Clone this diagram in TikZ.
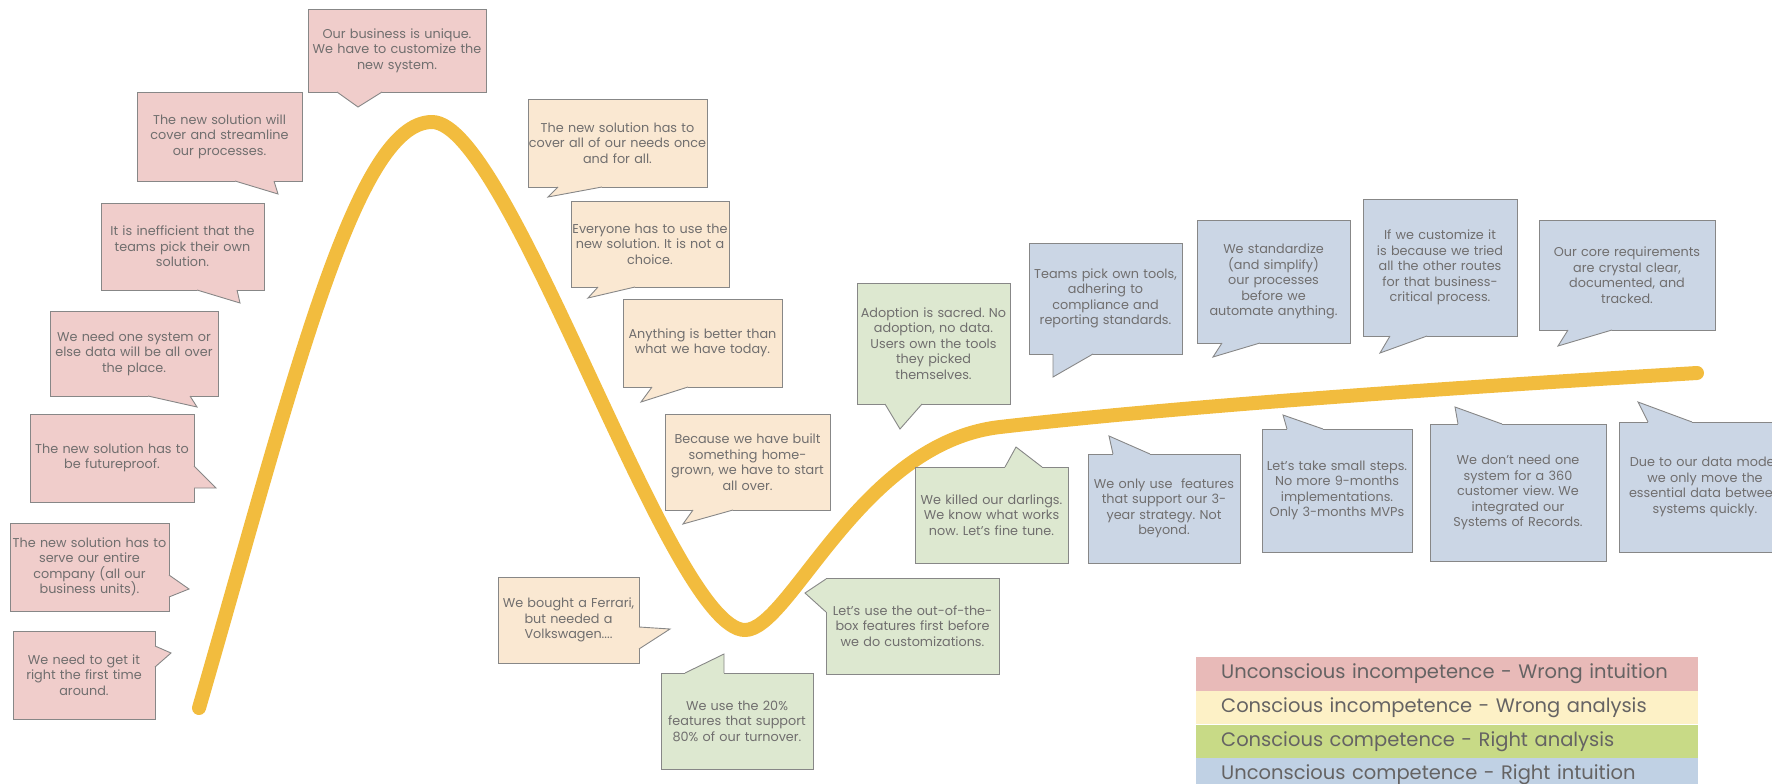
\documentclass[tikz,border=0pt]{standalone}
\usepackage{fontspec}
\setmainfont{Poppins}
\usepackage{tikz}
\usetikzlibrary{positioning}
\frenchspacing

\definecolor{pinkfill}{RGB}{240,205,203}
\definecolor{creamfill}{RGB}{250,232,210}
\definecolor{greenfill}{RGB}{221,232,208}
\definecolor{bluefill}{RGB}{203,214,229}
\definecolor{rimgray}{RGB}{135,135,135}
\definecolor{inkgray}{RGB}{112,110,110}
\definecolor{hypeline}{RGB}{242,188,62}
\definecolor{legpink}{RGB}{232,186,184}
\definecolor{legyellow}{RGB}{253,241,198}
\definecolor{leggreen}{RGB}{200,218,134}
\definecolor{legblue}{RGB}{192,209,228}

% speech bubble tail: fill, base point, tip, base point
\newcommand{\bubbletail}[4]{%
  \fill[#1] #2 -- #3 -- #4 -- cycle;
  \draw[#1, line width=1.6pt] #2 -- #4;
  \draw[rim] #2 -- #3 -- #4;
}

\begin{document}
\begin{tikzpicture}[x=1pt, y=-1pt,
    rim/.style={draw=rimgray, line width=0.9pt, line join=miter},
    bubble/.style n args={3}{rim, fill=#1, text width=#2, minimum height=#3,
      inner xsep=0pt, inner ysep=0pt, align=center, text=inkgray,
      font=\fontsize{12.8}{15.5}\selectfont},
    hype/.style={draw=hypeline, line width=14pt, line cap=round, line join=round},
    legendrow/.style={anchor=north west, minimum height=33.3pt, text width=452pt,
      inner xsep=25pt, inner ysep=0pt, align=left, text=inkgray!90!black,
      font=\fontsize{19.5}{21}\selectfont}]
  \useasboundingbox (0,0) rectangle (1772,784);
  \clip (0,0) rectangle (1772,784);

  \coordinate (start) at (199,708);
  \coordinate (peak) at (432,122);
  \coordinate (trough) at (745,630);
  \coordinate (knee) at (1000,427);
  \coordinate (finish) at (1697,373);
  \draw[hype] (start) .. controls (293,383) and (355,122) .. (peak)
    .. controls (510,122) and (670,630) .. (trough)
    .. controls (790,630) and (860,443) .. (knee)
    .. controls (1200,404) and (1497,385) .. (finish);

  % wrong intuition
  \node[bubble={pinkfill}{178pt}{83pt}] (unique) at (397,50.5)
    {Our business is unique.\\We have to customize the\\new system.};
  \bubbletail{pinkfill}{(337,92)}{(358,107)}{(382,92)}
  \node[bubble={pinkfill}{165pt}{89pt}] (streamline) at (219.5,136.5)
    {The new solution will\\cover and streamline\\our processes.};
  \bubbletail{pinkfill}{(235,181)}{(278,194)}{(274,181)}
  \node[bubble={pinkfill}{163pt}{87pt}] (inefficient) at (182.5,246.5)
    {It is inefficient that the\\teams pick their own\\solution.};
  \bubbletail{pinkfill}{(197,290)}{(240,303)}{(237,290)}
  \node[bubble={pinkfill}{168pt}{85pt}] (onesystem) at (134,353.5)
    {We need one system or\\else data will be all over\\the place.};
  \bubbletail{pinkfill}{(148,396)}{(197,407)}{(190,396)}
  \node[bubble={pinkfill}{164pt}{88pt}] (futureproof) at (112,458)
    {The new solution has to\\be futureproof.};
  \bubbletail{pinkfill}{(194,466)}{(216,488)}{(194,488)}
  \node[bubble={pinkfill}{159pt}{88pt}] (entire) at (89.5,567)
    {The new solution has to\\serve our entire\\company (all our\\business units).};
  \bubbletail{pinkfill}{(169,575)}{(189,589)}{(169,597)}
  \node[bubble={pinkfill}{142pt}{88pt}] (firsttime) at (84,675)
    {We need to get it\\right the first time\\around.};
  \bubbletail{pinkfill}{(155,646)}{(171,653)}{(155,667)}

  % wrong analysis
  \node[bubble={creamfill}{179pt}{88pt}] (onceforall) at (617.5,143)
    {The new solution has to\\cover all of our needs once\\and for all.};
  \bubbletail{creamfill}{(558,187)}{(548,197)}{(602,187)}
  \node[bubble={creamfill}{158pt}{86pt}] (everyone) at (650,244)
    {Everyone has to use the\\new solution. It is not a\\choice.};
  \bubbletail{creamfill}{(598,287)}{(588,298)}{(635,287)}
  \node[bubble={creamfill}{159pt}{88pt}] (anything) at (702.5,343)
    {Anything is better than\\what we have today.};
  \bubbletail{creamfill}{(652,387)}{(641,402)}{(688,387)}
  \node[bubble={creamfill}{165pt}{96pt}] (homegrown) at (747.5,462)
    {Because we have built\\something home-\\grown, we have to start\\all over.};
  \bubbletail{creamfill}{(693,510)}{(683,524)}{(733,510)}
  \node[bubble={creamfill}{141pt}{86pt}] (ferrari) at (568.5,620)
    {We bought a Ferrari,\\but needed a\\Volkswagen....};
  \bubbletail{creamfill}{(639,627)}{(670,629)}{(639,649)}

  % right analysis
  \node[bubble={greenfill}{152pt}{96pt}] (twenty) at (737,721)
    {We use the 20\%\\features that support\\80\% of our turnover.};
  \bubbletail{greenfill}{(685,673)}{(724,654)}{(724,673)}
  \node[bubble={greenfill}{173pt}{96pt}] (outofbox) at (912.5,626)
    {Let’s use the out-of-the-\\box features first before\\we do customizations.};
  \bubbletail{greenfill}{(826,579)}{(805,593)}{(826,612)}
  \node[bubble={greenfill}{153pt}{96pt}] (darlings) at (991.5,515)
    {We killed our darlings.\\We know what works\\now. Let’s fine tune.};
  \bubbletail{greenfill}{(1005,467)}{(1016,447)}{(1042,467)}
  \node[bubble={greenfill}{153pt}{121pt}] (adoption) at (933.5,343.5)
    {Adoption is sacred. No\\adoption, no data.\\Users own the tools\\they picked\\themselves.};
  \bubbletail{greenfill}{(885,404)}{(900,429)}{(922,404)}

  % right intuition
  \node[bubble={bluefill}{153pt}{111pt}] (owntools) at (1105.5,298.5)
    {Teams pick own tools,\\adhering to\\compliance and\\reporting standards.};
  \bubbletail{bluefill}{(1053,354)}{(1053,377)}{(1093,354)}
  \node[bubble={bluefill}{153pt}{123pt}] (standardize) at (1273.5,281.5)
    {We standardize\\(and simplify)\\our processes\\before we\\automate anything.};
  \bubbletail{bluefill}{(1222,343)}{(1213,357)}{(1260,343)}
  \node[bubble={bluefill}{154pt}{137pt}] (customize) at (1440,267.5)
    {If we customize it\\is because we tried\\all the other routes\\for that business-\\critical process.};
  \bubbletail{bluefill}{(1390,336)}{(1380,353)}{(1427,336)}
  \node[bubble={bluefill}{176pt}{110pt}] (core) at (1627,275)
    {Our core requirements\\are crystal clear,\\documented, and\\tracked.};
  \bubbletail{bluefill}{(1568,330)}{(1558,346)}{(1612,330)}
  \node[bubble={bluefill}{152pt}{109pt}] (strategy) at (1164,508.5)
    {We only use~ features\\that support our 3-\\year strategy. Not\\beyond.};
  \bubbletail{bluefill}{(1113,454)}{(1109,436)}{(1150,454)}
  \node[bubble={bluefill}{150pt}{123pt}] (smallsteps) at (1337,490.5)
    {Let’s take small steps.\\No more 9-months\\implementations.\\Only 3-months MVPs};
  \bubbletail{bluefill}{(1287,429)}{(1283,415)}{(1323,429)}
  \node[bubble={bluefill}{176pt}{137pt}] (records) at (1518,492.5)
    {We don’t need one\\system for a 360\\customer view. We\\integrated our\\Systems of Records.};
  \bubbletail{bluefill}{(1458,424)}{(1455,407)}{(1502,424)}
  \node[bubble={bluefill}{172pt}{130pt}] (datamodel) at (1705,487)
    {Due to our data model,\\we only move the\\essential data between\\systems quickly.};
  \bubbletail{bluefill}{(1648,422)}{(1638,402)}{(1692,422)}

  % legend
  \node[legendrow, fill=legpink] (row1) at (1196,657)
    {Unconscious incompetence - Wrong intuition};
  \node[legendrow, fill=legyellow, below=0pt of row1] (row2)
    {Conscious incompetence - Wrong analysis};
  \node[legendrow, fill=leggreen, below=0pt of row2] (row3)
    {Conscious competence - Right analysis};
  \node[legendrow, fill=legblue, below=0pt of row3] (row4)
    {Unconscious competence - Right intuition};
\end{tikzpicture}
\end{document}
